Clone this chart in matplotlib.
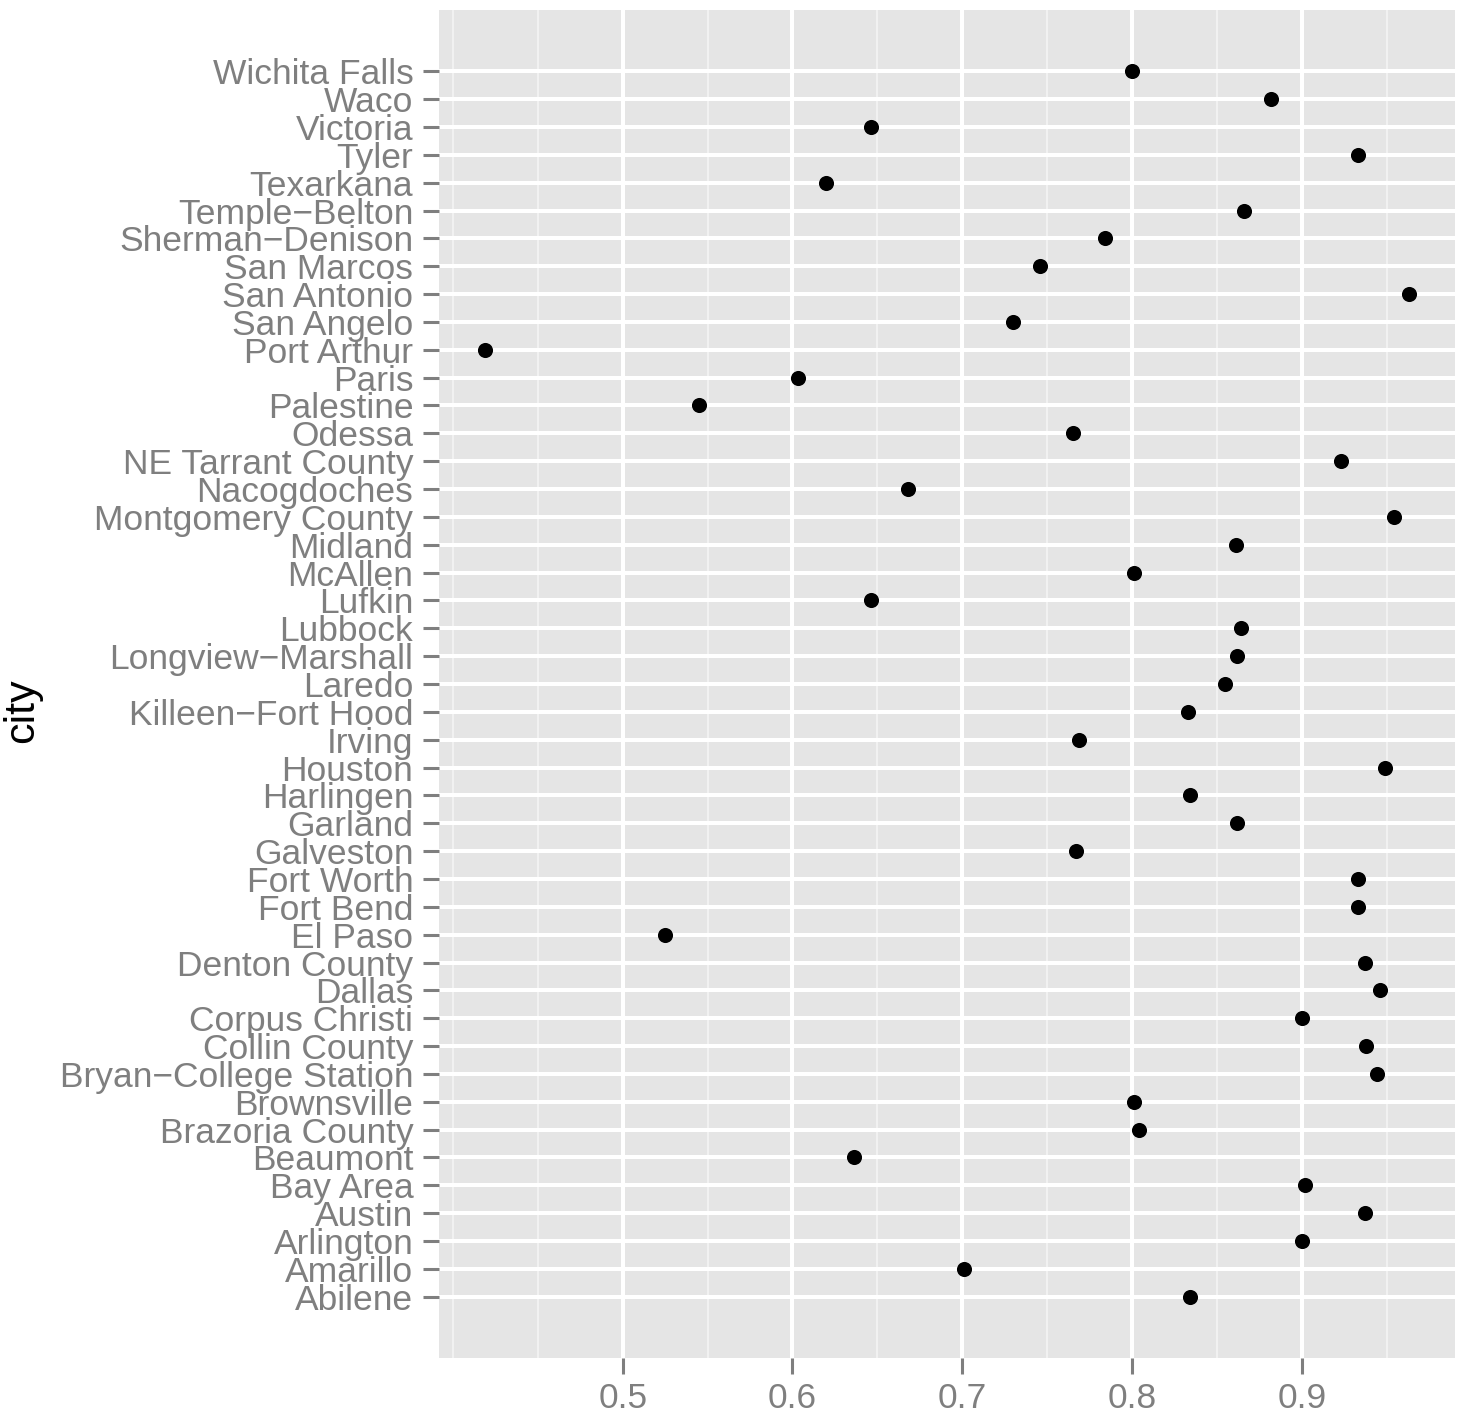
import matplotlib.pyplot as plt

# Cities, bottom to top (alphabetical), and their values
cities = [
    "Abilene", "Amarillo", "Arlington", "Austin", "Bay Area", "Beaumont",
    "Brazoria County", "Brownsville", "Bryan\u2212College Station",
    "Collin County", "Corpus Christi", "Dallas", "Denton County", "El Paso",
    "Fort Bend", "Fort Worth", "Galveston", "Garland", "Harlingen",
    "Houston", "Irving", "Killeen\u2212Fort Hood", "Laredo",
    "Longview\u2212Marshall", "Lubbock", "Lufkin", "McAllen", "Midland",
    "Montgomery County", "Nacogdoches", "NE Tarrant County", "Odessa",
    "Palestine", "Paris", "Port Arthur", "San Angelo", "San Antonio",
    "San Marcos", "Sherman\u2212Denison", "Temple\u2212Belton", "Texarkana",
    "Tyler", "Victoria", "Waco", "Wichita Falls",
]
values = [
    0.834, 0.701, 0.900, 0.937, 0.902, 0.636,
    0.804, 0.801, 0.944,
    0.938, 0.900, 0.946, 0.937, 0.525,
    0.933, 0.933, 0.767, 0.862, 0.834,
    0.949, 0.769, 0.833, 0.855,
    0.862, 0.864, 0.646, 0.801, 0.861,
    0.954, 0.668, 0.923, 0.765,
    0.545, 0.603, 0.419, 0.730, 0.963,
    0.746, 0.784, 0.866, 0.620,
    0.933, 0.646, 0.882, 0.800,
]
x_major = [0.5, 0.6, 0.7, 0.8, 0.9]
x_minor = [0.4, 0.45, 0.55, 0.65, 0.75, 0.85, 0.95]

W, H = 1459, 1421
GREY = "#7f7f7f"


def main():
    plt.rcParams["font.family"] = ["Liberation Sans", "DejaVu Sans"]
    fig = plt.figure(figsize=(W / 100, H / 100), dpi=100)
    ax = fig.add_axes([439 / W, 1 - 1358 / H, (1455 - 439) / W, (1358 - 10) / H])
    ax.set_facecolor("#e5e5e5")
    for s in ax.spines.values():
        s.set_visible(False)

    ypos = list(range(len(cities)))

    # grid lines
    for x in x_minor:
        ax.axvline(x, color="#f2f2f2", lw=1.4, zorder=0)
    for x in x_major:
        ax.axvline(x, color="white", lw=2.9, zorder=0)
    for y in ypos:
        ax.axhline(y, color="white", lw=2.9, zorder=0)

    ax.scatter(values, ypos, s=118, color="black", zorder=3, linewidths=0)

    # ggplot-style 5% expansion
    lo, hi = min(values), max(values)
    pad = (hi - lo) * 0.05
    ax.set_xlim(lo - pad, hi + pad)
    n = len(cities) - 1
    ax.set_ylim(-n * 0.05, n * 1.05)

    ax.set_xticks(x_major)
    ax.set_xticklabels([f"{v:g}" for v in x_major])
    ax.set_yticks(ypos)
    ax.set_yticklabels(cities)
    ax.tick_params(axis="both", colors=GREY, labelcolor=GREY, labelsize=25.5,
                   length=11.5, width=2.2)
    ax.tick_params(axis="y", pad=7)
    ax.tick_params(axis="x", pad=6)

    fig.text(22 / W, 0.5, "city", rotation=90, ha="center", va="center",
             fontsize=31, color="black")

    fig.savefig("out.png", dpi=100)


if __name__ == "__main__":
    main()
